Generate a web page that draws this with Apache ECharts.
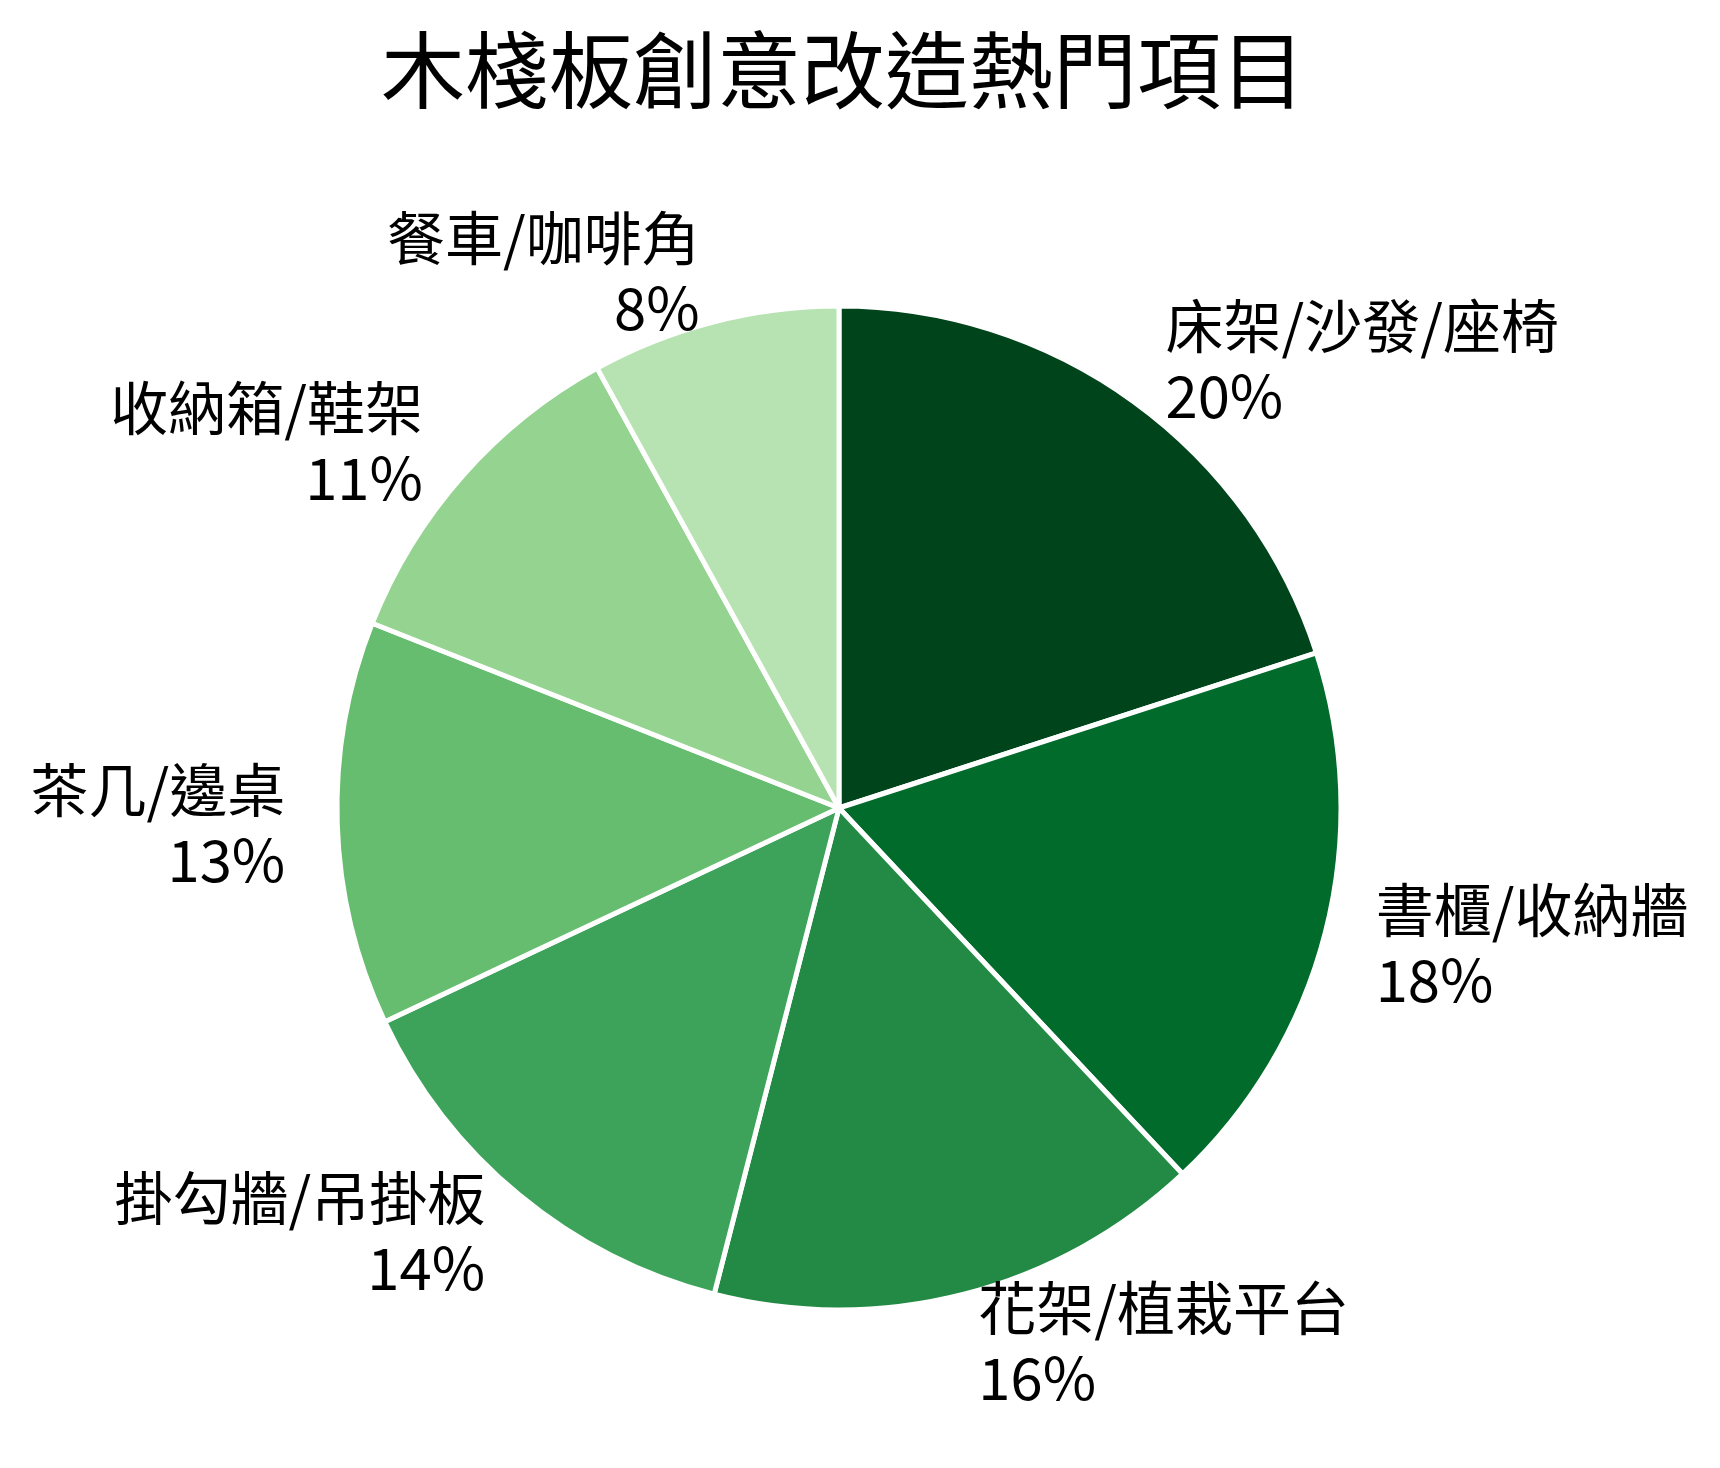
<!DOCTYPE html>
<html>
<head>
<meta charset="utf-8">
<script src="https://cdn.jsdelivr.net/npm/echarts@6/dist/echarts.min.js"></script>
<style>
  html, body { margin: 0; padding: 0; background: #fff; }
  #chart { width: 1720px; height: 1468px; }
</style>
</head>
<body>
<div id="chart"></div>
<script>
// 圖表資料
const titleText = '木棧板創意改造熱門項目';
const categories = ['床架/沙發/座椅', '書櫃/收納牆', '花架/植栽平台', '掛勾牆/吊掛板', '茶几/邊桌', '收納箱/鞋架', '餐車/咖啡角'];
const shares = [20, 18, 16, 14, 13, 11, 8];
const colors = ['#00441b', '#006b2b', '#228a44', '#3da35a', '#67bd6f', '#94d390', '#b7e2b1'];

const font = '"Noto Sans CJK TC", "Noto Sans CJK SC", sans-serif';
const radius = 502;

const chart = echarts.init(document.getElementById('chart'));

const option = {
    backgroundColor: '#fff',
    animation: false,
    title: {
        text: titleText,
        left: 381,
        top: 28,
        padding: 0,
        textStyle: {
            fontFamily: font,
            fontSize: 84,
            fontWeight: 'normal',
            color: '#000'
        }
    },
    series: [{
        type: 'pie',
        center: [839, 808],
        radius: radius,
        startAngle: 90,
        clockwise: true,
        avoidLabelOverlap: false,
        itemStyle: {
            borderColor: '#fff',
            borderWidth: 5
        },
        label: {
            show: true,
            position: 'outside',
            formatter: '{b}\n{c}%',
            fontFamily: font,
            fontSize: 58,
            lineHeight: 70,
            color: '#000',
            distanceToLabelLine: 2
        },
        labelLine: {
            show: false,
            length: 50,
            length2: 0
        },
        emphasis: { disabled: true },
        data: categories.map((name, i) => ({
            name: name,
            value: shares[i],
            itemStyle: { color: colors[i] }
        }))
    }]
};

chart.setOption(option);
</script>
</body>
</html>
